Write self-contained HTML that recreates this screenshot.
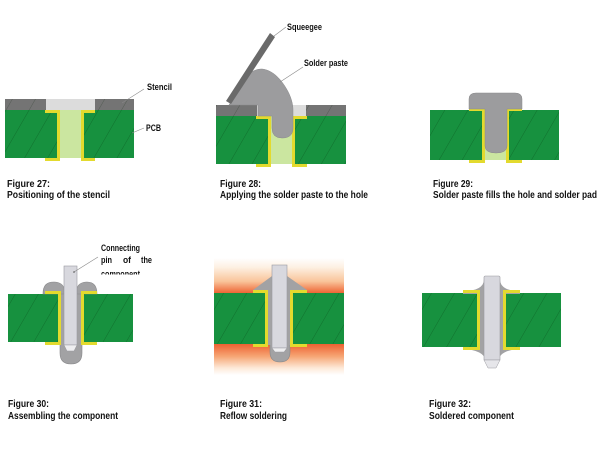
<!DOCTYPE html>
<html><head><meta charset="utf-8"><style>
html,body{margin:0;padding:0;background:#fff;}
svg{display:block;}
.cap{font-family:"Liberation Sans Narrow","Liberation Sans",Arial,sans-serif;font-weight:bold;font-size:10px;fill:#111;}
.lab{font-family:"Liberation Sans Narrow","Liberation Sans",Arial,sans-serif;font-weight:bold;font-size:9px;fill:#111;}
</style></head><body>
<svg width="602" height="452" viewBox="0 0 602 452" xmlns="http://www.w3.org/2000/svg">
<defs>
<pattern id="h" patternUnits="userSpaceOnUse" width="20" height="20" patternTransform="rotate(30)">
<line x1="0" y1="0" x2="0" y2="20" stroke="rgba(0,30,0,0.35)" stroke-width="0.8"/>
</pattern>
<linearGradient id="heat" x1="0" y1="258" x2="0" y2="375" gradientUnits="userSpaceOnUse">
<stop offset="0" stop-color="#ffffff"/>
<stop offset="0.08" stop-color="#fdf0e2"/>
<stop offset="0.2" stop-color="#f9c49a"/>
<stop offset="0.3" stop-color="#ee6434"/>
<stop offset="0.74" stop-color="#ee6434"/>
<stop offset="0.84" stop-color="#f6a574"/>
<stop offset="0.94" stop-color="#fde9d8"/>
<stop offset="1" stop-color="#ffffff"/>
</linearGradient>
<clipPath id="cc"><rect x="95" y="240" width="70" height="34.5"/></clipPath>
</defs>
<rect width="602" height="452" fill="#fff"/>

<!-- ===== Figure 27 ===== -->
<g>
<rect x="5" y="99" width="41" height="11" fill="#747474"/>
<rect x="46" y="99" width="49" height="11" fill="#dcdcdc"/>
<rect x="95" y="99" width="39" height="11" fill="#747474"/>
<rect x="5" y="110" width="52" height="48" fill="#17913f"/>
<rect x="84" y="110" width="50" height="48" fill="#17913f"/>
<rect x="5" y="99" width="41" height="11" fill="url(#h)"/>
<rect x="95" y="99" width="39" height="11" fill="url(#h)"/>
<rect x="5" y="110" width="52" height="48" fill="url(#h)"/>
<rect x="84" y="110" width="50" height="48" fill="url(#h)"/>
<rect x="60" y="110" width="21" height="48" fill="#cbe6a0"/>
<g fill="#e3da2e">
<rect x="57" y="110" width="3" height="51"/><rect x="45" y="110" width="15" height="3"/><rect x="45" y="158" width="15" height="3"/>
<rect x="81" y="110" width="3" height="51"/><rect x="81" y="110" width="14" height="3"/><rect x="81" y="158" width="14" height="3"/>
</g>
<line x1="144" y1="89" x2="122" y2="103" stroke="#888" stroke-width="0.6"/>
<line x1="144" y1="128" x2="132" y2="133" stroke="#888" stroke-width="0.6"/>
<text class="lab" x="147" y="90" textLength="25" lengthAdjust="spacingAndGlyphs">Stencil</text>
<text class="lab" x="146" y="131" textLength="15" lengthAdjust="spacingAndGlyphs">PCB</text>
<text class="cap" x="7" y="187" textLength="43" lengthAdjust="spacingAndGlyphs">Figure 27:</text>
<text class="cap" x="7" y="198" textLength="103" lengthAdjust="spacingAndGlyphs">Positioning of the stencil</text>
</g>

<!-- ===== Figure 28 ===== -->
<g>
<rect x="216" y="105" width="41" height="11" fill="#747474"/>
<rect x="257" y="105" width="49" height="11" fill="#dcdcdc"/>
<rect x="306" y="105" width="40" height="11" fill="#747474"/>
<rect x="216" y="116" width="52" height="48" fill="#17913f"/>
<rect x="295" y="116" width="51" height="48" fill="#17913f"/>
<rect x="216" y="105" width="41" height="11" fill="url(#h)"/>
<rect x="306" y="105" width="40" height="11" fill="url(#h)"/>
<rect x="216" y="116" width="52" height="48" fill="url(#h)"/>
<rect x="295" y="116" width="51" height="48" fill="url(#h)"/>
<rect x="271" y="116" width="21" height="48" fill="#cbe6a0"/>
<g fill="#e3da2e">
<rect x="268" y="116" width="3" height="51"/><rect x="256" y="116" width="15" height="3"/><rect x="256" y="164" width="15" height="3"/>
<rect x="292" y="116" width="3" height="51"/><rect x="292" y="116" width="15" height="3"/><rect x="292" y="164" width="15" height="3"/>
</g>
<path d="M229,105 L240,87 C245,76 252,69 262,69 C272,70 280,78 286,88 C291,96 293,104 293,110 L293,128 Q293,138 282,138 Q272,138 272,128 L272,116 L258,116 L258,105 Z" fill="#9c9c9e" stroke="#8a8a8c" stroke-width="0.5"/>
<polygon points="226,101 231,104 275,37 270,33" fill="#6a6a6a"/>
<line x1="286" y1="27" x2="274" y2="36" stroke="#888" stroke-width="0.6"/>
<line x1="303" y1="67" x2="280" y2="82" stroke="#888" stroke-width="0.6"/>
<text class="lab" x="287" y="30" textLength="35" lengthAdjust="spacingAndGlyphs">Squeegee</text>
<text class="lab" x="304" y="66" textLength="44" lengthAdjust="spacingAndGlyphs">Solder paste</text>
<text class="cap" x="220" y="187" textLength="41" lengthAdjust="spacingAndGlyphs">Figure 28:</text>
<text class="cap" x="220" y="198" textLength="148" lengthAdjust="spacingAndGlyphs">Applying the solder paste to the hole</text>
</g>

<!-- ===== Figure 29 ===== -->
<g>
<rect x="430" y="110" width="52" height="50" fill="#17913f"/>
<rect x="509" y="110" width="50" height="50" fill="#17913f"/>
<rect x="430" y="110" width="52" height="50" fill="url(#h)"/>
<rect x="509" y="110" width="50" height="50" fill="url(#h)"/>
<rect x="485" y="110" width="21" height="50" fill="#cbe6a0"/>
<g fill="#e3da2e">
<rect x="482" y="108" width="3" height="55"/><rect x="469" y="108" width="16" height="3"/><rect x="469" y="160" width="16" height="3"/>
<rect x="506" y="108" width="3" height="55"/><rect x="506" y="108" width="16" height="3"/><rect x="506" y="160" width="16" height="3"/>
</g>
<path d="M469,109 L469,99 Q469,93 476,93 L515,93 Q522,93 522,99 L522,109 L507,109 L507,146 Q507,153 496,153 Q485,153 485,146 L485,109 Z" fill="#9c9c9e" stroke="#8a8a8c" stroke-width="0.5"/>
<text class="cap" x="433" y="187" textLength="40" lengthAdjust="spacingAndGlyphs">Figure 29:</text>
<text class="cap" x="433" y="198" textLength="164" lengthAdjust="spacingAndGlyphs">Solder paste fills the hole and solder pad</text>
</g>

<!-- ===== Figure 30 ===== -->
<g>
<rect x="8" y="294" width="50" height="48" fill="#17913f"/>
<rect x="84" y="294" width="49" height="48" fill="#17913f"/>
<rect x="8" y="294" width="50" height="48" fill="url(#h)"/>
<rect x="84" y="294" width="49" height="48" fill="url(#h)"/>
<path d="M60,340 L60,353 Q60,364 71,364 Q82,364 82,353 L82,340 Z" fill="#a2a2a4" stroke="#88888a" stroke-width="0.6"/>
<rect x="61" y="292" width="20" height="52" fill="#a2a2a4"/>
<path d="M43,294 C43,285 47,282 54,282 C60,282 63,285 64,288 L64,294 Z" fill="#a2a2a4" stroke="#88888a" stroke-width="0.6"/>
<path d="M97,294 C97,285 93,282 87,282 C81,282 78,285 77,288 L77,294 Z" fill="#a2a2a4" stroke="#88888a" stroke-width="0.6"/>
<g fill="#e3da2e">
<rect x="58" y="291" width="3" height="54"/><rect x="45" y="291" width="16" height="3"/><rect x="45" y="342" width="16" height="3"/>
<rect x="81" y="291" width="3" height="54"/><rect x="81" y="291" width="16" height="3"/><rect x="81" y="342" width="16" height="3"/>
</g>
<rect x="64" y="266" width="13" height="79" fill="#d8d8de" stroke="#9a9aa0" stroke-width="0.6"/>
<polygon points="64,345 77,345 74,351 67,351" fill="#eeeef0" stroke="#9a9aa0" stroke-width="0.5"/>
<line x1="98" y1="257" x2="74" y2="272" stroke="#888" stroke-width="0.6"/>
<circle cx="74" cy="272" r="0.8" fill="#555"/>
<text class="lab" x="101" y="251" textLength="39" lengthAdjust="spacingAndGlyphs">Connecting</text>
<text class="lab" x="101" y="263" textLength="11" lengthAdjust="spacingAndGlyphs">pin</text>
<text class="lab" x="123" y="263" textLength="8" lengthAdjust="spacingAndGlyphs">of</text>
<text class="lab" x="141" y="263" textLength="11" lengthAdjust="spacingAndGlyphs">the</text>
<text class="lab" x="101" y="277" clip-path="url(#cc)" textLength="39" lengthAdjust="spacingAndGlyphs">component</text>
<text class="cap" x="8" y="407" textLength="41" lengthAdjust="spacingAndGlyphs">Figure 30:</text>
<text class="cap" x="8" y="419" textLength="110" lengthAdjust="spacingAndGlyphs">Assembling the component</text>
</g>

<!-- ===== Figure 31 ===== -->
<g>
<rect x="214" y="258" width="130" height="117" fill="url(#heat)"/>
<rect x="214" y="293" width="51" height="51" fill="#17913f"/>
<rect x="293" y="293" width="51" height="51" fill="#17913f"/>
<rect x="214" y="293" width="51" height="51" fill="url(#h)"/>
<rect x="293" y="293" width="51" height="51" fill="url(#h)"/>
<path d="M270,342 L270,352 Q270,362 280,362 Q290,362 290,352 L290,342 Z" fill="#a2a2a4" stroke="#88888a" stroke-width="0.6"/>
<rect x="268" y="290" width="22" height="55" fill="#a2a2a4"/>
<polygon points="272,276 253,290 307,290 287,276" fill="#a2a2a4"/>
<g fill="#e3da2e">
<rect x="265" y="290" width="3" height="57"/><rect x="253" y="290" width="15" height="3"/><rect x="253" y="344" width="15" height="3"/>
<rect x="290" y="290" width="3" height="57"/><rect x="290" y="290" width="17" height="3"/><rect x="290" y="344" width="17" height="3"/>
</g>
<rect x="272" y="265" width="15" height="83" fill="#d8d8de" stroke="#9a9aa0" stroke-width="0.6"/>
<polygon points="272,348 287,348 284,352 275,352" fill="#eeeef0" stroke="#9a9aa0" stroke-width="0.5"/>
<text class="cap" x="220" y="407" textLength="42" lengthAdjust="spacingAndGlyphs">Figure 31:</text>
<text class="cap" x="220" y="419" textLength="67" lengthAdjust="spacingAndGlyphs">Reflow soldering</text>
</g>

<!-- ===== Figure 32 ===== -->
<g>
<rect x="422" y="293" width="55" height="54" fill="#17913f"/>
<rect x="506" y="293" width="55" height="54" fill="#17913f"/>
<rect x="422" y="293" width="55" height="54" fill="url(#h)"/>
<rect x="506" y="293" width="55" height="54" fill="url(#h)"/>
<rect x="480" y="290" width="23" height="60" fill="#a2a2a4"/>
<path d="M484,279 Q484,291 463,291 L463,294 L484,294 Z" fill="#a2a2a4"/>
<path d="M500,279 Q500,291 520,291 L520,294 L500,294 Z" fill="#a2a2a4"/>
<path d="M463,349 Q484,350 486,361 L498,361 Q500,350 520,349 Z" fill="#a2a2a4"/>
<g fill="#e3da2e">
<rect x="477" y="290" width="3" height="60"/><rect x="463" y="290" width="17" height="3"/><rect x="463" y="347" width="17" height="3"/>
<rect x="503" y="290" width="3" height="60"/><rect x="503" y="290" width="17" height="3"/><rect x="503" y="347" width="17" height="3"/>
</g>
<path d="M485,276 L499,276 L500,277 L500,360 L484,360 L484,277 Z" fill="#d8d8de" stroke="#9a9aa0" stroke-width="0.6"/>
<polygon points="484,360 500,360 496,368 488,368" fill="#e6e6ea" stroke="#9a9aa0" stroke-width="0.5"/>
<text class="cap" x="429" y="407" textLength="42" lengthAdjust="spacingAndGlyphs">Figure 32:</text>
<text class="cap" x="429" y="419" textLength="85" lengthAdjust="spacingAndGlyphs">Soldered component</text>
</g>
</svg>
</body></html>
